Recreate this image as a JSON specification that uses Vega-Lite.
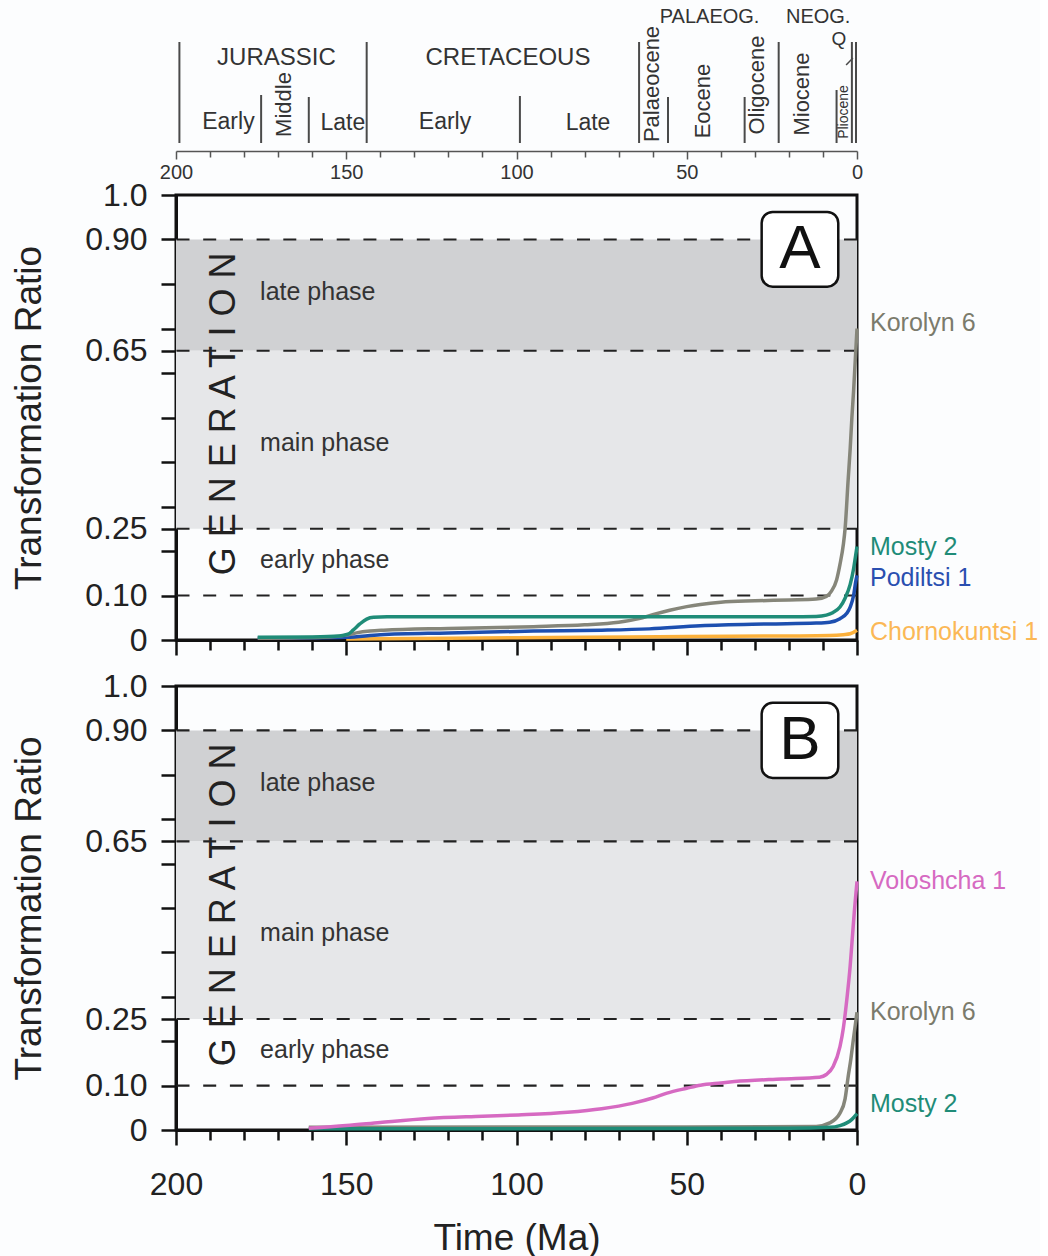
{
  "$schema": "https://vega.github.io/schema/vega-lite/v6.json",
  "background": "#fcfdfe",
  "padding": {"left": 9, "top": 1, "right": 0, "bottom": 0},
  "config": {
    "font": "Liberation Sans",
    "view": {"stroke": "#111", "strokeWidth": 3},
    "axis": {"domainColor": "#111", "domainWidth": 3, "tickColor": "#111", "tickWidth": 2.5, "grid": false, "labelColor": "#222", "titleColor": "#222", "labelFont": "Liberation Sans", "titleFont": "Liberation Sans", "titleFontWeight": "normal", "labelFlush": false, "labelOverlap": false, "tickCount": 100, "zindex": 1}
  },
  "datasets": {
    "curvesA": [
      {"s": "Chornokuntsi 1", "t": 150, "v": 0.002}, {"s": "Chornokuntsi 1", "t": 120, "v": 0.004}, {"s": "Chornokuntsi 1", "t": 80, "v": 0.006}, {"s": "Chornokuntsi 1", "t": 50, "v": 0.008}, {"s": "Chornokuntsi 1", "t": 20, "v": 0.009}, {"s": "Chornokuntsi 1", "t": 8, "v": 0.01}, {"s": "Chornokuntsi 1", "t": 4, "v": 0.012}, {"s": "Chornokuntsi 1", "t": 2, "v": 0.014}, {"s": "Chornokuntsi 1", "t": 0, "v": 0.022},
      {"s": "Podiltsi 1", "t": 176, "v": 0.004}, {"s": "Podiltsi 1", "t": 150, "v": 0.006}, {"s": "Podiltsi 1", "t": 140, "v": 0.012}, {"s": "Podiltsi 1", "t": 120, "v": 0.016}, {"s": "Podiltsi 1", "t": 95, "v": 0.02}, {"s": "Podiltsi 1", "t": 75, "v": 0.022}, {"s": "Podiltsi 1", "t": 61, "v": 0.025}, {"s": "Podiltsi 1", "t": 46, "v": 0.032}, {"s": "Podiltsi 1", "t": 26, "v": 0.036}, {"s": "Podiltsi 1", "t": 12, "v": 0.038}, {"s": "Podiltsi 1", "t": 8, "v": 0.04}, {"s": "Podiltsi 1", "t": 5, "v": 0.048}, {"s": "Podiltsi 1", "t": 3, "v": 0.06}, {"s": "Podiltsi 1", "t": 2, "v": 0.074}, {"s": "Podiltsi 1", "t": 1, "v": 0.1}, {"s": "Podiltsi 1", "t": 0.4, "v": 0.13}, {"s": "Podiltsi 1", "t": 0, "v": 0.145},
      {"s": "Korolyn 6", "t": 176, "v": 0.004}, {"s": "Korolyn 6", "t": 155, "v": 0.007}, {"s": "Korolyn 6", "t": 150, "v": 0.011}, {"s": "Korolyn 6", "t": 147, "v": 0.016}, {"s": "Korolyn 6", "t": 143, "v": 0.02}, {"s": "Korolyn 6", "t": 139, "v": 0.022}, {"s": "Korolyn 6", "t": 120, "v": 0.026}, {"s": "Korolyn 6", "t": 95, "v": 0.03}, {"s": "Korolyn 6", "t": 80, "v": 0.034}, {"s": "Korolyn 6", "t": 70, "v": 0.04}, {"s": "Korolyn 6", "t": 64, "v": 0.048}, {"s": "Korolyn 6", "t": 60, "v": 0.057}, {"s": "Korolyn 6", "t": 55, "v": 0.067}, {"s": "Korolyn 6", "t": 50, "v": 0.075}, {"s": "Korolyn 6", "t": 46, "v": 0.08}, {"s": "Korolyn 6", "t": 40, "v": 0.085}, {"s": "Korolyn 6", "t": 30, "v": 0.088}, {"s": "Korolyn 6", "t": 20, "v": 0.09}, {"s": "Korolyn 6", "t": 12, "v": 0.092}, {"s": "Korolyn 6", "t": 9, "v": 0.098}, {"s": "Korolyn 6", "t": 7.5, "v": 0.11}, {"s": "Korolyn 6", "t": 6, "v": 0.135}, {"s": "Korolyn 6", "t": 5, "v": 0.17}, {"s": "Korolyn 6", "t": 4, "v": 0.215}, {"s": "Korolyn 6", "t": 3.5, "v": 0.25}, {"s": "Korolyn 6", "t": 2.6, "v": 0.36}, {"s": "Korolyn 6", "t": 2, "v": 0.43}, {"s": "Korolyn 6", "t": 1.5, "v": 0.5}, {"s": "Korolyn 6", "t": 1, "v": 0.56}, {"s": "Korolyn 6", "t": 0.5, "v": 0.63}, {"s": "Korolyn 6", "t": 0, "v": 0.7},
      {"s": "Mosty 2", "t": 176, "v": 0.006}, {"s": "Mosty 2", "t": 160, "v": 0.007}, {"s": "Mosty 2", "t": 152, "v": 0.009}, {"s": "Mosty 2", "t": 149.5, "v": 0.013}, {"s": "Mosty 2", "t": 148, "v": 0.022}, {"s": "Mosty 2", "t": 146, "v": 0.036}, {"s": "Mosty 2", "t": 144, "v": 0.047}, {"s": "Mosty 2", "t": 142, "v": 0.051}, {"s": "Mosty 2", "t": 138, "v": 0.052}, {"s": "Mosty 2", "t": 100, "v": 0.052}, {"s": "Mosty 2", "t": 60, "v": 0.052}, {"s": "Mosty 2", "t": 20, "v": 0.052}, {"s": "Mosty 2", "t": 12, "v": 0.053}, {"s": "Mosty 2", "t": 9, "v": 0.056}, {"s": "Mosty 2", "t": 7, "v": 0.062}, {"s": "Mosty 2", "t": 5, "v": 0.074}, {"s": "Mosty 2", "t": 3.5, "v": 0.094}, {"s": "Mosty 2", "t": 2, "v": 0.125}, {"s": "Mosty 2", "t": 1, "v": 0.16}, {"s": "Mosty 2", "t": 0.4, "v": 0.19}, {"s": "Mosty 2", "t": 0, "v": 0.21}
    ],
    "curvesB": [
      {"s": "Korolyn 6", "t": 161, "v": 0.006}, {"s": "Korolyn 6", "t": 100, "v": 0.007}, {"s": "Korolyn 6", "t": 50, "v": 0.007}, {"s": "Korolyn 6", "t": 12, "v": 0.008}, {"s": "Korolyn 6", "t": 8, "v": 0.016}, {"s": "Korolyn 6", "t": 5, "v": 0.038}, {"s": "Korolyn 6", "t": 3.5, "v": 0.07}, {"s": "Korolyn 6", "t": 2.6, "v": 0.12}, {"s": "Korolyn 6", "t": 1.8, "v": 0.16}, {"s": "Korolyn 6", "t": 1.2, "v": 0.196}, {"s": "Korolyn 6", "t": 0.3, "v": 0.248}, {"s": "Korolyn 6", "t": 0, "v": 0.265},
      {"s": "Mosty 2", "t": 161, "v": 0.003}, {"s": "Mosty 2", "t": 100, "v": 0.003}, {"s": "Mosty 2", "t": 20, "v": 0.004}, {"s": "Mosty 2", "t": 8, "v": 0.006}, {"s": "Mosty 2", "t": 5, "v": 0.01}, {"s": "Mosty 2", "t": 3, "v": 0.016}, {"s": "Mosty 2", "t": 1.5, "v": 0.024}, {"s": "Mosty 2", "t": 0.3, "v": 0.034}, {"s": "Mosty 2", "t": 0, "v": 0.037},
      {"s": "Voloshcha 1", "t": 161, "v": 0.004}, {"s": "Voloshcha 1", "t": 150, "v": 0.01}, {"s": "Voloshcha 1", "t": 140, "v": 0.017}, {"s": "Voloshcha 1", "t": 126, "v": 0.026}, {"s": "Voloshcha 1", "t": 110, "v": 0.031}, {"s": "Voloshcha 1", "t": 99.5, "v": 0.034}, {"s": "Voloshcha 1", "t": 85, "v": 0.04}, {"s": "Voloshcha 1", "t": 75, "v": 0.048}, {"s": "Voloshcha 1", "t": 66, "v": 0.06}, {"s": "Voloshcha 1", "t": 60, "v": 0.072}, {"s": "Voloshcha 1", "t": 55.8, "v": 0.083}, {"s": "Voloshcha 1", "t": 50, "v": 0.094}, {"s": "Voloshcha 1", "t": 46, "v": 0.101}, {"s": "Voloshcha 1", "t": 40, "v": 0.106}, {"s": "Voloshcha 1", "t": 36, "v": 0.109}, {"s": "Voloshcha 1", "t": 22, "v": 0.115}, {"s": "Voloshcha 1", "t": 11, "v": 0.119}, {"s": "Voloshcha 1", "t": 9, "v": 0.125}, {"s": "Voloshcha 1", "t": 7, "v": 0.143}, {"s": "Voloshcha 1", "t": 5, "v": 0.188}, {"s": "Voloshcha 1", "t": 4, "v": 0.23}, {"s": "Voloshcha 1", "t": 3, "v": 0.293}, {"s": "Voloshcha 1", "t": 2, "v": 0.37}, {"s": "Voloshcha 1", "t": 1.5, "v": 0.42}, {"s": "Voloshcha 1", "t": 0.8, "v": 0.49}, {"s": "Voloshcha 1", "t": 0.3, "v": 0.534}, {"s": "Voloshcha 1", "t": 0, "v": 0.56}
    ],
    "labelsA": [{"s": "Korolyn 6", "v": 0.712}, {"s": "Mosty 2", "v": 0.209}, {"s": "Podiltsi 1", "v": 0.139}, {"s": "Chornokuntsi 1", "v": 0.018}],
    "labelsB": [{"s": "Voloshcha 1", "v": 0.561}, {"s": "Korolyn 6", "v": 0.266}, {"s": "Mosty 2", "v": 0.059}],
    "bands": [{"phase": "late", "lo": 0.65, "hi": 0.9}, {"phase": "main", "lo": 0.25, "hi": 0.65}],
    "limits": [{"v": 0.9}, {"v": 0.65}, {"v": 0.25}, {"v": 0.1}],
    "phases": [{"label": "late phase", "v": 0.782}, {"label": "main phase", "v": 0.443}, {"label": "early phase", "v": 0.18}],
    "bounds": [
      {"age": 199, "lo": 8, "hi": 109}, {"age": 175, "lo": 8, "hi": 56}, {"age": 161, "lo": 8, "hi": 54}, {"age": 144, "lo": 8, "hi": 109},
      {"age": 99, "lo": 8, "hi": 55}, {"age": 64, "lo": 8, "hi": 109}, {"age": 55.5, "lo": 8, "hi": 54}, {"age": 33, "lo": 8, "hi": 54},
      {"age": 23, "lo": 8, "hi": 109}, {"age": 6, "lo": 8, "hi": 61}, {"age": 1.5, "lo": 8, "hi": 109}, {"age": 0.3, "lo": 8, "hi": 109}
    ],
    "periods": [{"name": "JURASSIC", "age": 170.5, "lvl": 93.5}, {"name": "CRETACEOUS", "age": 102.5, "lvl": 93.5}],
    "eras": [{"name": "PALAEOG.", "age": 43.3, "lvl": 134}, {"name": "NEOG.", "age": 11.4, "lvl": 134}],
    "epochsH": [{"name": "Early", "age": 184.6, "lvl": 29}, {"name": "Late", "age": 151, "lvl": 28}, {"name": "Early", "age": 121, "lvl": 29}, {"name": "Late", "age": 79, "lvl": 28}],
    "epochsV": [{"name": "Middle", "age": 168.3, "lvl": 46.5}, {"name": "Palaeocene", "age": 60.2, "lvl": 67}, {"name": "Eocene", "age": 45.3, "lvl": 50}, {"name": "Oligocene", "age": 29.4, "lvl": 66}, {"name": "Miocene", "age": 16.2, "lvl": 57}]
  },
  "bounds": "flush",
  "spacing": 44,
  "vconcat": [
    {
      "width": 681,
      "height": 150,
      "view": {"stroke": null},
      "layer": [
        {
          "data": {"name": "bounds"},
          "mark": {"type": "rule", "color": "#4a4a4a", "strokeWidth": 2},
          "encoding": {
            "x": {"field": "age", "type": "quantitative", "scale": {"domain": [0, 200], "reverse": true, "nice": false},
                  "axis": {"values": [0,10,20,30,40,50,60,70,80,90,100,110,120,130,140,150,160,170,180,190,200], "tickCount": 100, "labelExpr": "datum.value % 50 === 0 ? datum.label : ''", "tickSize": {"condition": {"test": "datum.value % 50 === 0", "value": 8}, "value": 6}, "domainWidth": 1.5, "domainColor": "#555", "tickColor": "#555", "tickWidth": 1.5, "labelFontSize": 20, "labelColor": "#333", "labelPadding": 3, "title": null}},
            "y": {"field": "lo", "type": "quantitative", "scale": {"domain": [0, 150], "nice": false}, "axis": null},
            "y2": {"field": "hi"}
          }
        },
        {
          "data": {"values": [{}]},
          "mark": {"type": "rule", "color": "#4a4a4a", "strokeWidth": 1.5},
          "encoding": {
            "x": {"datum": 3.2, "type": "quantitative"}, "x2": {"datum": 1.2},
            "y": {"datum": 86, "type": "quantitative", "axis": null}, "y2": {"datum": 93}
          }
        },
        {
          "data": {"name": "periods"},
          "mark": {"type": "text", "fontSize": 24, "color": "#333", "baseline": "middle"},
          "encoding": {"x": {"field": "age", "type": "quantitative"}, "y": {"field": "lvl", "type": "quantitative", "axis": null}, "text": {"field": "name"}}
        },
        {
          "data": {"name": "eras"},
          "mark": {"type": "text", "fontSize": 20, "color": "#333", "baseline": "middle"},
          "encoding": {"x": {"field": "age", "type": "quantitative"}, "y": {"field": "lvl", "type": "quantitative", "axis": null}, "text": {"field": "name"}}
        },
        {
          "data": {"values": [{"name": "Q", "age": 5.3, "lvl": 112}]},
          "mark": {"type": "text", "fontSize": 19, "color": "#333", "baseline": "middle"},
          "encoding": {"x": {"field": "age", "type": "quantitative"}, "y": {"field": "lvl", "type": "quantitative", "axis": null}, "text": {"field": "name"}}
        },
        {
          "data": {"name": "epochsH"},
          "mark": {"type": "text", "fontSize": 23, "color": "#333", "baseline": "middle"},
          "encoding": {"x": {"field": "age", "type": "quantitative"}, "y": {"field": "lvl", "type": "quantitative", "axis": null}, "text": {"field": "name"}}
        },
        {
          "data": {"name": "epochsV"},
          "mark": {"type": "text", "fontSize": 22, "color": "#333", "baseline": "middle", "angle": 270},
          "encoding": {"x": {"field": "age", "type": "quantitative"}, "y": {"field": "lvl", "type": "quantitative", "axis": null}, "text": {"field": "name"}}
        },
        {
          "data": {"values": [{"name": "Pliocene", "age": 3.8, "lvl": 39}]},
          "mark": {"type": "text", "fontSize": 14, "color": "#333", "baseline": "middle", "angle": 270},
          "encoding": {"x": {"field": "age", "type": "quantitative"}, "y": {"field": "lvl", "type": "quantitative", "axis": null}, "text": {"field": "name"}}
        }
      ]
    },
    {
      "bounds": "flush",
      "spacing": 46,
      "vconcat": [
        {
          "width": 681,
          "height": 445,
          "layer": [
            {
              "data": {"name": "bands"},
              "mark": {"type": "rect"},
              "encoding": {
                "y": {"field": "lo", "type": "quantitative", "scale": {"domain": [0, 1], "nice": false},
                      "axis": {"values": [0,0.1,0.2,0.25,0.3,0.4,0.5,0.6,0.65,0.7,0.8,0.9,1], "tickCount": 100, "labelExpr": "datum.value == 1 ? '1.0' : datum.value == 0 ? '0' : (datum.value == 0.9 || datum.value == 0.65 || datum.value == 0.25 || datum.value == 0.1) ? format(datum.value, '.2f') : ''", "tickSize": 15, "labelFontSize": 32, "labelPadding": 14, "title": "Transformation Ratio", "titleFontSize": 37, "titlePadding": 36}},
                "y2": {"field": "hi"},
                "fill": {"field": "phase", "type": "nominal", "scale": {"domain": ["late", "main"], "range": ["#d0d1d3", "#e6e7e9"]}, "legend": null}
              }
            },
            {
              "data": {"name": "limits"},
              "mark": {"type": "rule", "color": "#222", "strokeWidth": 2.2, "strokeDash": [13, 13.7]},
              "encoding": {"y": {"field": "v", "type": "quantitative"}}
            },
            {
              "data": {"name": "curvesA"},
              "transform": [{"filter": "datum.s === 'Chornokuntsi 1'"}],
              "mark": {"type": "line", "color": "#fbb03b", "strokeWidth": 3.5, "interpolate": "monotone"},
              "encoding": {
                "x": {"field": "t", "type": "quantitative", "scale": {"domain": [0, 200], "reverse": true, "nice": false},
                      "axis": {"values": [0,10,20,30,40,50,60,70,80,90,100,110,120,130,140,150,160,170,180,190,200], "tickCount": 100, "labels": false, "tickSize": {"condition": {"test": "datum.value % 50 === 0", "value": 15}, "value": 10}, "title": null}},
                "y": {"field": "v", "type": "quantitative"}
              }
            },
            {
              "data": {"name": "curvesA"},
              "transform": [{"filter": "datum.s === 'Podiltsi 1'"}],
              "mark": {"type": "line", "color": "#1d4fb0", "strokeWidth": 3.5, "interpolate": "monotone"},
              "encoding": {"x": {"field": "t", "type": "quantitative"}, "y": {"field": "v", "type": "quantitative"}}
            },
            {
              "data": {"name": "curvesA"},
              "transform": [{"filter": "datum.s === 'Korolyn 6'"}],
              "mark": {"type": "line", "color": "#86867a", "strokeWidth": 3.5, "interpolate": "monotone"},
              "encoding": {"x": {"field": "t", "type": "quantitative"}, "y": {"field": "v", "type": "quantitative"}}
            },
            {
              "data": {"name": "curvesA"},
              "transform": [{"filter": "datum.s === 'Mosty 2'"}],
              "mark": {"type": "line", "color": "#1f8c78", "strokeWidth": 3.5, "interpolate": "monotone"},
              "encoding": {"x": {"field": "t", "type": "quantitative"}, "y": {"field": "v", "type": "quantitative"}}
            },
            {
              "data": {"name": "labelsA"},
              "mark": {"type": "text", "align": "left", "baseline": "middle", "dx": 13, "fontSize": 25},
              "encoding": {
                "x": {"datum": 0, "type": "quantitative"},
                "y": {"field": "v", "type": "quantitative"},
                "text": {"field": "s"},
                "color": {"field": "s", "type": "nominal", "scale": {"domain": ["Korolyn 6", "Mosty 2", "Podiltsi 1", "Chornokuntsi 1", "Voloshcha 1"], "range": ["#7b7b6c", "#1f8c78", "#2a4fb0", "#fbb856", "#d66ac2"]}, "legend": null}
              }
            },
            {
              "data": {"name": "phases"},
              "mark": {"type": "text", "align": "left", "baseline": "middle", "fontSize": 25, "color": "#333"},
              "encoding": {"x": {"datum": 175.3, "type": "quantitative"}, "y": {"field": "v", "type": "quantitative"}, "text": {"field": "label"}}
            },
            {
              "data": {"values": [{"word": "G E N E R A T I O N"}]},
              "mark": {"type": "text", "align": "center", "baseline": "middle", "fontSize": 36, "angle": 270, "color": "#222"},
              "encoding": {"x": {"datum": 186, "type": "quantitative"}, "y": {"datum": 0.508, "type": "quantitative"}, "text": {"field": "word"}}
            },
            {
              "data": {"values": [{}]},
              "mark": {"type": "rect", "fill": "white", "stroke": "#111", "strokeWidth": 2.5, "cornerRadius": 11},
              "encoding": {"x": {"datum": 28, "type": "quantitative"}, "x2": {"datum": 5.5}, "y": {"datum": 0.962, "type": "quantitative"}, "y2": {"datum": 0.794}}
            },
            {
              "data": {"values": [{"letter": "A"}]},
              "mark": {"type": "text", "align": "center", "baseline": "middle", "fontSize": 62, "color": "#111"},
              "encoding": {"x": {"datum": 16.75, "type": "quantitative"}, "y": {"datum": 0.878, "type": "quantitative"}, "text": {"field": "letter"}}
            }
          ]
        },
        {
          "width": 681,
          "height": 444,
          "layer": [
            {
              "data": {"name": "bands"},
              "mark": {"type": "rect"},
              "encoding": {
                "y": {"field": "lo", "type": "quantitative", "scale": {"domain": [0, 1], "nice": false},
                      "axis": {"values": [0,0.1,0.2,0.25,0.3,0.4,0.5,0.6,0.65,0.7,0.8,0.9,1], "tickCount": 100, "labelExpr": "datum.value == 1 ? '1.0' : datum.value == 0 ? '0' : (datum.value == 0.9 || datum.value == 0.65 || datum.value == 0.25 || datum.value == 0.1) ? format(datum.value, '.2f') : ''", "tickSize": 15, "labelFontSize": 32, "labelPadding": 14, "title": "Transformation Ratio", "titleFontSize": 37, "titlePadding": 36}},
                "y2": {"field": "hi"},
                "fill": {"field": "phase", "type": "nominal", "scale": {"domain": ["late", "main"], "range": ["#d0d1d3", "#e6e7e9"]}, "legend": null}
              }
            },
            {
              "data": {"name": "limits"},
              "mark": {"type": "rule", "color": "#222", "strokeWidth": 2.2, "strokeDash": [13, 13.7]},
              "encoding": {"y": {"field": "v", "type": "quantitative"}}
            },
            {
              "data": {"name": "curvesB"},
              "transform": [{"filter": "datum.s === 'Korolyn 6'"}],
              "mark": {"type": "line", "color": "#86867a", "strokeWidth": 3.5, "interpolate": "monotone"},
              "encoding": {
                "x": {"field": "t", "type": "quantitative", "scale": {"domain": [0, 200], "reverse": true, "nice": false},
                      "axis": {"values": [0,10,20,30,40,50,60,70,80,90,100,110,120,130,140,150,160,170,180,190,200], "tickCount": 100, "labelExpr": "datum.value % 50 === 0 ? datum.label : ''", "tickSize": {"condition": {"test": "datum.value % 50 === 0", "value": 15}, "value": 10}, "labelFontSize": 32, "labelPadding": 24, "title": "Time (Ma)", "titleFontSize": 37, "titlePadding": 20}},
                "y": {"field": "v", "type": "quantitative"}
              }
            },
            {
              "data": {"name": "curvesB"},
              "transform": [{"filter": "datum.s === 'Mosty 2'"}],
              "mark": {"type": "line", "color": "#1f8c78", "strokeWidth": 3.5, "interpolate": "monotone"},
              "encoding": {"x": {"field": "t", "type": "quantitative"}, "y": {"field": "v", "type": "quantitative"}}
            },
            {
              "data": {"name": "curvesB"},
              "transform": [{"filter": "datum.s === 'Voloshcha 1'"}],
              "mark": {"type": "line", "color": "#d66ac2", "strokeWidth": 3.5, "interpolate": "monotone"},
              "encoding": {"x": {"field": "t", "type": "quantitative"}, "y": {"field": "v", "type": "quantitative"}}
            },
            {
              "data": {"name": "labelsB"},
              "mark": {"type": "text", "align": "left", "baseline": "middle", "dx": 13, "fontSize": 25},
              "encoding": {
                "x": {"datum": 0, "type": "quantitative"},
                "y": {"field": "v", "type": "quantitative"},
                "text": {"field": "s"},
                "color": {"field": "s", "type": "nominal", "scale": {"domain": ["Korolyn 6", "Mosty 2", "Podiltsi 1", "Chornokuntsi 1", "Voloshcha 1"], "range": ["#7b7b6c", "#1f8c78", "#2a4fb0", "#fbb856", "#d66ac2"]}, "legend": null}
              }
            },
            {
              "data": {"name": "phases"},
              "mark": {"type": "text", "align": "left", "baseline": "middle", "fontSize": 25, "color": "#333"},
              "encoding": {"x": {"datum": 175.3, "type": "quantitative"}, "y": {"field": "v", "type": "quantitative"}, "text": {"field": "label"}}
            },
            {
              "data": {"values": [{"word": "G E N E R A T I O N"}]},
              "mark": {"type": "text", "align": "center", "baseline": "middle", "fontSize": 36, "angle": 270, "color": "#222"},
              "encoding": {"x": {"datum": 186, "type": "quantitative"}, "y": {"datum": 0.507, "type": "quantitative"}, "text": {"field": "word"}}
            },
            {
              "data": {"values": [{}]},
              "mark": {"type": "rect", "fill": "white", "stroke": "#111", "strokeWidth": 2.5, "cornerRadius": 11},
              "encoding": {"x": {"datum": 28, "type": "quantitative"}, "x2": {"datum": 5.5}, "y": {"datum": 0.962, "type": "quantitative"}, "y2": {"datum": 0.793}}
            },
            {
              "data": {"values": [{"letter": "B"}]},
              "mark": {"type": "text", "align": "center", "baseline": "middle", "fontSize": 62, "color": "#111"},
              "encoding": {"x": {"datum": 16.75, "type": "quantitative"}, "y": {"datum": 0.878, "type": "quantitative"}, "text": {"field": "letter"}}
            }
          ]
        }
      ]
    }
  ]
}
